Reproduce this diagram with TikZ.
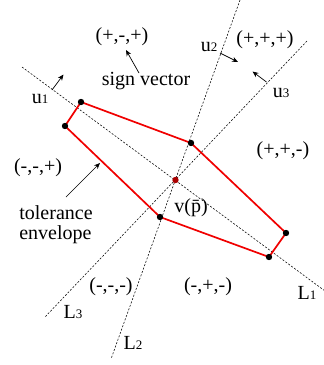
\documentclass[tikz,border=0pt]{standalone}
\usepackage{fontspec}
\setmainfont{Liberation Serif}
\usepackage{xcolor}
\definecolor{envred}{RGB}{240, 0, 0}
\definecolor{pointred}{RGB}{170, 0, 0}
\usepackage{tikz}
\usetikzlibrary{arrows.meta, positioning, calc}

\newcommand{\idx}[2]{#1{\fontsize{13}{13}\selectfont #2}}

\tikzset{
    splitline/.style={black, line width=0.55pt, dash pattern=on 2pt off 1.6pt},
    envelope/.style={envred, line width=1.7pt, line join=miter},
    normalarrow/.style={->, line width=0.7pt, >={Stealth[length=6pt, width=5pt]}},
    lbl/.style={inner sep=0pt, font=\fontsize{20}{22}\selectfont}
}

\begin{document}
\begin{tikzpicture}[x=1pt, y=-1pt]
    \useasboundingbox (0,0) rectangle (324,365);

    % dividing lines
    \coordinate (L1a) at (22,67);
    \coordinate (L1b) at (325,291);
    \coordinate (L2a) at (240,0);
    \coordinate (L2b) at (111,359);
    \coordinate (L3a) at (307,41);
    \coordinate (L3b) at (45,317);
    \draw[splitline] (L1a) -- (L1b);
    \draw[splitline] (L2a) -- (L2b);
    \draw[splitline] (L3a) -- (L3b);

    % tolerance envelope
    \coordinate (A) at (81,102);
    \coordinate (B) at (65,126);
    \coordinate (C) at (160,217);
    \coordinate (D) at (269,257);
    \coordinate (E) at (286,233);
    \coordinate (F) at (191,143);
    \draw[envelope] (A) -- (F) -- (E) -- (D) -- (C) -- (B) -- cycle;
    \foreach \v in {A,B,C,D,E,F}
        \fill (\v) circle (3.2pt);
    \coordinate (P) at (175.5,180);
    \fill[pointred] (P) circle (3.2pt);

    % normals
    \coordinate (n1a) at (52,90);
    \coordinate (n1b) at (63.5,74.5);
    \coordinate (n2a) at (220,53);
    \coordinate (n2b) at (238,62);
    \coordinate (n3a) at (266.5,82);
    \coordinate (n3b) at (252.5,71.5);
    \draw[normalarrow] (n1a) -- (n1b);
    \draw[normalarrow] (n2a) -- (n2b);
    \draw[normalarrow] (n3a) -- (n3b);
    \node[lbl] (u1) at (40,99) {\idx{u}{1}};
    \node[lbl] (u2) at (209,47) {\idx{u}{2}};
    \node[lbl] (u3) at (281,93) {\idx{u}{3}};

    % line names
    \node[lbl] (L1) at (307,293) {\idx{L}{1}};
    \node[lbl] (L2) at (133,343) {\idx{L}{2}};
    \node[lbl] (L3) at (73,312) {\idx{L}{3}};

    % sign vectors
    \node[lbl] (spms) at (122,37) {(+,-,+)};
    \node[lbl] (sppp) at (265,40) {(+,+,+)};
    \node[lbl] (sppm) at (283,151) {(+,+,-)};
    \node[lbl] (smmp) at (38,168) {(-,-,+)};
    \node[lbl] (smmm) at (111,287) {(-,-,-)};
    \node[lbl] (smpm) at (208,287) {(-,+,-)};

    % annotations
    \node[lbl] (sign) at (146,81) {sign vector};
    \coordinate (s0) at (139,73);
    \coordinate (s1) at (126,50);
    \draw[normalarrow] (s0) -- (s1);
    \node[lbl, align=left] (tol) at (56,225) {tolerance\\[-2pt]envelope};
    \coordinate (t0) at (66,197);
    \coordinate (t1) at (100,163);
    \draw[normalarrow] (t0) -- (t1);
    \node[lbl] (vp) at (191,208) {v(\=p)};
\end{tikzpicture}
\end{document}
